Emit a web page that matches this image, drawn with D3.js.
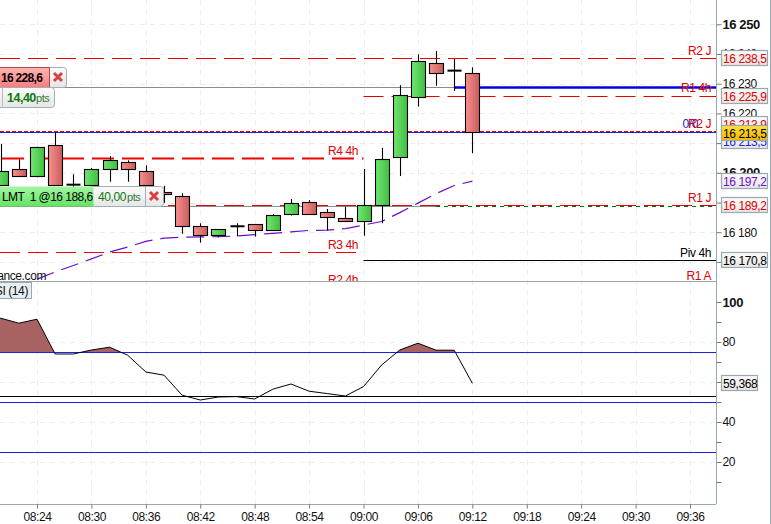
<!DOCTYPE html>
<html>
<head>
<meta charset="utf-8">
<script src="https://d3js.org/d3.v7.min.js"></script>
<style>
  html, body { margin: 0; padding: 0; background: #fff; overflow: hidden; }
  svg { display: block; }
  text { font-family: "Liberation Sans", Arial, sans-serif; font-size: 12px; letter-spacing: -0.4px; }
</style>
</head>
<body>
<svg id="chart" width="771" height="524"></svg>
<script>
// candles, 2 min bars
const candleTimes = ['08:20','08:22','08:24','08:26','08:28','08:30','08:32','08:34','08:36','08:38','08:40','08:42','08:44','08:46','08:48','08:50','08:52','08:54','08:56','08:58','09:00','09:02','09:04','09:06','09:08','09:10','09:12'];
const opens  = [16195.9,16201.2,16198.7,16209.3,16196,16195.9,16201.2,16203.5,16200.5,16193.6,16192.1,16182,16179,16182,16182.7,16180.6,16186,16190.1,16186.7,16184.7,16183.7,16189.1,16205.2,16225.4,16236.9,16234.4,16233.5];
const highs  = [16209.7,16204.5,16208.8,16213.5,16199.5,16201.6,16205.6,16204.2,16202.5,16195.6,16193.1,16183,16181,16183,16182.7,16186.1,16191.2,16190.8,16187.8,16188.6,16201.3,16208.4,16229.5,16239.9,16241,16238.3,16235.5];
const lows   = [16195.5,16198.9,16198.5,16195.6,16194.2,16195.6,16197,16197,16194.2,16189.9,16179.5,16176.5,16178.3,16178.6,16178.5,16180.5,16185.6,16186,16180.6,16183.7,16178.8,16183,16198.9,16222.3,16229.3,16227.6,16206.6];
const closes = [16200.5,16199,16208.6,16195.9,16196,16201.2,16204.2,16201.2,16195.8,16192.8,16182,16179,16181,16182,16180.6,16185.7,16189.7,16186,16185,16183.7,16189.1,16204.5,16226.1,16237.5,16233.5,16234.4,16213.7];

// purple moving average
const maTimes = candleTimes.slice(2);
const maValues = [16164.2,16166.6,16168.8,16171,16173.3,16175,16176.9,16178,16178.3,16178.4,16178.5,16178.7,16179.2,16179.6,16180.1,16180.6,16180.7,16181.2,16182.4,16183.6,16186.6,16189.8,16193,16195.7,16197.2];

// RSI pane
const rsiTimes = ['08:18', ...candleTimes];
const rsiValues = [93,91.9,89.4,91.4,74,74,76,77.4,73.4,65,63.4,53.4,51,52.5,52.7,51.5,56.4,59,55.4,54.2,53,57.7,68.5,76,79.4,75.9,75.9,59.368];
const rsiOverbought = 75;
const rsiLevels = [75, 50, 25];
const rsiMarker = 52.8;

// axes
const timeTicks = ['08:24','08:30','08:36','08:42','08:48','08:54','09:00','09:06','09:12','09:18','09:24','09:30','09:36'];
const priceTicks = [16250,16240,16230,16220,16210,16200,16190,16180,16170];
const rsiTicks = [100,90,80,70,60,50,40,30,20,10];
const rsiLabelTicks = [100,80,40,20];

const parseTime = d3.timeParse('%H:%M');
const fmtPrice = (v) => d3.format('.1f')(v).replace(/^(\d\d)(\d{3})/, '$1 $2').replace('.', ',');

const plotRight = 716;
const priceBottom = 281;
const rsiBottom = 504;

const x = d3.scaleTime().domain([parseTime('08:24'), parseTime('09:36')]).range([37, 690]);
const y = d3.scaleLinear().domain([16250, 16180]).range([24.3, 232.2]);
const yRsi = d3.scaleLinear().domain([100, 20]).range([302, 462]);
const tx = (s) => x(parseTime(s));

const svg = d3.select('#chart');
const defs = svg.append('defs');

function hGradient(id, from, to, vertical) {
  const g = defs.append('linearGradient').attr('id', id)
    .attr('x1', 0).attr('y1', 0).attr('x2', vertical ? 0 : 1).attr('y2', vertical ? 1 : 0);
  g.append('stop').attr('offset', '0%').attr('stop-color', from);
  g.append('stop').attr('offset', '100%').attr('stop-color', to);
}
hGradient('candleUp', '#72e672', '#3fbf3f');
hGradient('candleDown', '#f89090', '#c85c5c');
hGradient('tagRed', '#ffb4b4', '#fb7c7c', true);
hGradient('tagGreen', '#a4f5a4', '#62e462', true);
hGradient('tagGrey', '#fbfbfb', '#e6e6e6', true);
hGradient('tagYellow', '#ffe23a', '#f5b400', true);

defs.append('clipPath').attr('id', 'priceClip').append('rect')
  .attr('x', 0).attr('y', 0).attr('width', plotRight).attr('height', priceBottom);
defs.append('clipPath').attr('id', 'rsiClip').append('rect')
  .attr('x', 0).attr('y', priceBottom).attr('width', plotRight).attr('height', rsiBottom - priceBottom);
defs.append('clipPath').attr('id', 'aboveClip').append('rect')
  .attr('x', 0).attr('y', priceBottom).attr('width', plotRight).attr('height', yRsi(rsiOverbought) - priceBottom);

// grid
const grid = svg.append('g').attr('stroke', '#ececec').attr('stroke-dasharray', '5 5').attr('stroke-width', 1);
grid.selectAll('.v').data(timeTicks).join('line')
  .attr('x1', (d) => Math.round(tx(d)) + 0.5).attr('x2', (d) => Math.round(tx(d)) + 0.5)
  .attr('y1', 0).attr('y2', rsiBottom);
grid.selectAll('.h').data(priceTicks).join('line')
  .attr('x1', 0).attr('x2', plotRight)
  .attr('y1', (d) => Math.round(y(d)) + 0.5).attr('y2', (d) => Math.round(y(d)) + 0.5);
grid.selectAll('.r').data([80, 60, 40, 20]).join('line')
  .attr('x1', 0).attr('x2', plotRight)
  .attr('y1', (d) => Math.round(yRsi(d)) + 0.5).attr('y2', (d) => Math.round(yRsi(d)) + 0.5);

// price pane
const price = svg.append('g').attr('clip-path', 'url(#priceClip)');

function level(value, x1, x2, color, width, dash, dy = 0) {
  price.append('line')
    .attr('x1', x1).attr('x2', x2)
    .attr('y1', Math.round(y(value)) + 0.5 + dy).attr('y2', Math.round(y(value)) + 0.5 + dy)
    .attr('stroke', color).attr('stroke-width', width)
    .attr('stroke-dasharray', dash);
}

level(16228.6, 0, plotRight, '#8c8c8c', 1, null, -1);
level(16188.6, 0, 436, '#8c8c8c', 1, null, -1);
level(16238.5, 0, plotRight, '#f00000', 1, '20 8');
level(16225.9, tx('09:00'), plotRight, '#e00000', 1, '20 8');
level(16213.5, 0, plotRight, '#2020e0', 1, null, -1);
level(16213.7, 0, plotRight, '#e00000', 1, '4 2', -1);
level(16205.1, 2, tx('09:00'), '#f00000', 2, '22 8');
level(16188.6, 436, plotRight, '#007000', 1.2, '4 4', -1);
level(16189.2, 168, plotRight, '#e00000', 1, '20 8');
level(16173.3, 0, 356, '#f00000', 1, '20 8');
level(16170.8, tx('09:00'), plotRight, '#000', 1);
level(16228.6, tx('09:10'), plotRight, '#0000e0', 2.5, null, -1);

// moving average
const maLine = d3.line().x((d) => tx(d.t)).y((d) => y(d.v));
price.append('path')
  .datum(maTimes.map((t, i) => ({ t, v: maValues[i] })))
  .attr('d', maLine)
  .attr('fill', 'none').attr('stroke', '#6a0fc8').attr('stroke-width', 1.2)
  .attr('stroke-dasharray', '18 8');

// candles
const candles = candleTimes.map((t, i) => ({ t, o: opens[i], h: highs[i], l: lows[i], c: closes[i] }));
const bodyW = 14;
const candle = price.selectAll('.candle').data(candles).join('g')
  .attr('transform', (d) => `translate(${Math.round(tx(d.t)) + 0.5},0)`);
candle.append('line')
  .attr('y1', (d) => y(d.h)).attr('y2', (d) => y(d.l))
  .attr('stroke', '#000').attr('stroke-width', 1.1);
candle.append('rect')
  .attr('x', -bodyW / 2)
  .attr('y', (d) => Math.round(y(Math.max(d.o, d.c))) + 0.5)
  .attr('width', bodyW)
  .attr('height', (d) => Math.max(0, Math.round(Math.abs(y(d.o) - y(d.c)))))
  .attr('fill', (d) => (d.c > d.o ? 'url(#candleUp)' : 'url(#candleDown)'))
  .attr('stroke', '#000').attr('stroke-width', 1.1);
// dojis are just a thick bar
candle.filter((d) => d.o === d.c).append('line')
  .attr('x1', -bodyW / 2).attr('x2', bodyW / 2)
  .attr('y1', (d) => y(d.o)).attr('y2', (d) => y(d.o))
  .attr('stroke', '#000').attr('stroke-width', 2);

// level names
const levelNames = [
  ['R2 J', 711, 55, '#e00000'],
  ['R1 4h', 711, 92, '#e00000'],
  ['R4 4h', 358, 155, '#e00000'],
  ['R1 J', 711, 202, '#e00000'],
  ['R3 4h', 358, 249, '#e00000'],
  ['Piv 4h', 711, 257, '#000'],
  ['R2 4h', 358, 284, '#e00000'],
  ['R1 A', 711, 280, '#e00000'],
];
price.selectAll('.name').data(levelNames).join('text')
  .attr('x', (d) => d[1]).attr('y', (d) => d[2])
  .attr('text-anchor', 'end').attr('fill', (d) => d[3])
  .text((d) => d[0]);
price.append('text').attr('x', 698).attr('y', 128).attr('text-anchor', 'end').attr('fill', '#2020e0').text('0/0');
price.append('text').attr('x', 711).attr('y', 128).attr('text-anchor', 'end').attr('fill', '#e00000').text('R2 J');
price.append('text').attr('x', 46).attr('y', 280).attr('text-anchor', 'end').attr('fill', '#111').text('ance.com');

// order tags
function tag(group, x0, y0, w, h, fill, stroke, radius) {
  group.append('rect').attr('x', x0 + 0.5).attr('y', y0 + 0.5).attr('width', w).attr('height', h)
    .attr('rx', radius || 0).attr('fill', fill).attr('stroke', stroke);
}
function cross(group, cx, cy) {
  group.append('path')
    .attr('d', `M${cx - 4},${cy - 4}L${cx + 4},${cy + 4}M${cx + 4},${cy - 4}L${cx - 4},${cy + 4}`)
    .attr('stroke', '#d8413f').attr('stroke-width', 3);
}
const orders = svg.append('g');
tag(orders, 40, 67, 26, 20, 'url(#tagGrey)', '#a4aeb6', 3);
tag(orders, -3, 67, 52, 20, 'url(#tagRed)', '#a84848');
cross(orders, 58, 77);
orders.append('text').attr('x', 1).attr('y', 82).attr('fill', '#000')
  .style('font-weight', 'bold').style('letter-spacing', '-0.7px').text('16 228,6');
tag(orders, -8, 87, 62, 20, 'url(#tagGrey)', '#a4aeb6', 3);
orders.append('line').attr('x1', 2.5).attr('x2', 2.5).attr('y1', 88).attr('y2', 106).attr('stroke', '#b4bcc2');
orders.append('text').attr('x', 7).attr('y', 102).attr('fill', '#0a7a0a')
  .style('font-weight', 'bold').style('font-size', '12.5px').style('letter-spacing', '-0.5px').text('14,40');
orders.append('text').attr('x', 36).attr('y', 102).attr('fill', '#3a7a3a').style('font-size', '11px').text('pts');

tag(orders, 130, 186, 33, 20, 'url(#tagGrey)', '#a4aeb6', 3);
tag(orders, 90, 186, 55, 20, 'url(#tagGrey)', '#a4aeb6');
tag(orders, -3, 186, 96, 20, 'url(#tagGreen)', 'none');
cross(orders, 154, 196);
orders.append('text').attr('x', 2).attr('y', 201).attr('fill', '#000').attr('xml:space', 'preserve')
  .style('letter-spacing', '-0.55px').text('LMT  1 @16 188,6');
orders.append('text').attr('x', 98).attr('y', 201).attr('fill', '#0a7a0a').text('40,00');
orders.append('text').attr('x', 127).attr('y', 201).attr('fill', '#3a7a3a').style('font-size', '11px').text('pts');

// RSI pane
const rsi = svg.append('g').attr('clip-path', 'url(#rsiClip)');
const rsiPoints = rsiTimes.map((t, i) => ({ t, v: rsiValues[i] }));
rsi.append('path').datum(rsiPoints)
  .attr('clip-path', 'url(#aboveClip)')
  .attr('d', d3.area().x((d) => tx(d.t)).y0(yRsi(rsiOverbought)).y1((d) => yRsi(d.v)))
  .attr('fill', '#a86262');
rsi.selectAll('.lvl').data(rsiLevels).join('line')
  .attr('x1', 0).attr('x2', plotRight)
  .attr('y1', (d) => Math.round(yRsi(d)) + 0.5).attr('y2', (d) => Math.round(yRsi(d)) + 0.5)
  .attr('stroke', '#2020e0');
rsi.append('line')
  .attr('x1', 0).attr('x2', plotRight)
  .attr('y1', Math.round(yRsi(rsiMarker)) + 0.5).attr('y2', Math.round(yRsi(rsiMarker)) + 0.5)
  .attr('stroke', '#000');
rsi.append('path').datum(rsiPoints)
  .attr('d', d3.line().x((d) => tx(d.t)).y((d) => yRsi(d.v)))
  .attr('fill', 'none').attr('stroke', '#000').attr('stroke-width', 1);

tag(svg, -4, 282, 35, 16, '#e8eff4', '#9aa8b0');
svg.append('text').attr('x', 28).attr('y', 295).attr('text-anchor', 'end').attr('fill', '#111').text('SI (14)');

// frame
const frameColor = '#9aa8b0';
svg.append('line').attr('x1', 0).attr('x2', plotRight).attr('y1', priceBottom + 0.5).attr('y2', priceBottom + 0.5).attr('stroke', frameColor);
svg.append('line').attr('x1', 770.5).attr('x2', 770.5).attr('y1', 0).attr('y2', 524).attr('stroke', frameColor);

// axes
const xAxis = d3.axisBottom(x)
  .tickValues(timeTicks.map(parseTime))
  .tickFormat(d3.timeFormat('%H:%M'))
  .tickSize(4).tickPadding(4);
const xAxisG = svg.append('g').attr('transform', `translate(0,${rsiBottom + 0.5})`).call(xAxis);
xAxisG.select('.domain').attr('d', `M0,0H${plotRight}`).attr('stroke', frameColor);

const yAxis = d3.axisRight(y).tickValues(priceTicks)
  .tickFormat((d) => `${String(d).slice(0, 2)} ${String(d).slice(2)}`)
  .tickSize(5).tickPadding(1);
const yAxisG = svg.append('g').attr('transform', `translate(${plotRight + 0.5},0)`).call(yAxis);
yAxisG.select('.domain').attr('d', `M0,0V${priceBottom}`).attr('stroke', frameColor);

const rsiAxis = d3.axisRight(yRsi).tickValues(rsiTicks)
  .tickFormat((d) => (rsiLabelTicks.includes(d) ? d : ''))
  .tickSize(5).tickPadding(1);
const rsiAxisG = svg.append('g').attr('transform', `translate(${plotRight + 0.5},0)`).call(rsiAxis);
rsiAxisG.select('.domain').attr('d', `M0,${priceBottom}V${rsiBottom}`).attr('stroke', frameColor);

[xAxisG, yAxisG, rsiAxisG].forEach((g) => {
  g.attr('font-family', null).attr('font-size', null);
  g.selectAll('.tick line').attr('stroke', '#6e7a82');
  g.selectAll('.tick text').attr('fill', '#111');
});
yAxisG.selectAll('.tick text').filter((d) => d % 50 === 0).style('font-weight', 'bold').style('font-size', '13px');
rsiAxisG.selectAll('.tick text').filter((d) => d === 100).style('font-weight', 'bold').style('font-size', '13px');

// last value boxes on the axis
const priceBoxes = [
  [16238.5, 0, '#e00000'],
  [16225.9, 0, '#e00000'],
  [16213.9, -8, '#e00000'],
  [16213.5, 8, '#2020e0'],
  [16213.5, 0, '#000', 'url(#tagYellow)'],
  [16197.2, 0, '#6a0fc8'],
  [16189.2, 0, '#e00000'],
  [16170.8, 0, '#000'],
];
const boxes = svg.append('g');
priceBoxes.forEach(([v, dy, color, fill]) => {
  const cy = Math.round(y(v)) + dy;
  boxes.append('rect').attr('x', 721.5).attr('y', cy - 7.5).attr('width', 46).attr('height', 15)
    .attr('fill', fill || 'url(#tagGrey)').attr('stroke', frameColor).attr('stroke-width', 1.2);
  boxes.append('text').attr('x', 723).attr('y', cy + 4.5).attr('fill', color).text(fmtPrice(v));
});
const lastRsi = rsiValues[rsiValues.length - 1];
const rsiBoxY = Math.round(yRsi(lastRsi));
boxes.append('rect').attr('x', 721.5).attr('y', rsiBoxY - 7.5).attr('width', 36).attr('height', 15)
  .attr('fill', 'url(#tagGrey)').attr('stroke', frameColor).attr('stroke-width', 1.2);
boxes.append('text').attr('x', 723).attr('y', rsiBoxY + 4.5).attr('fill', '#000').text(d3.format('.3f')(lastRsi).replace('.', ','));
</script>
</body>
</html>
